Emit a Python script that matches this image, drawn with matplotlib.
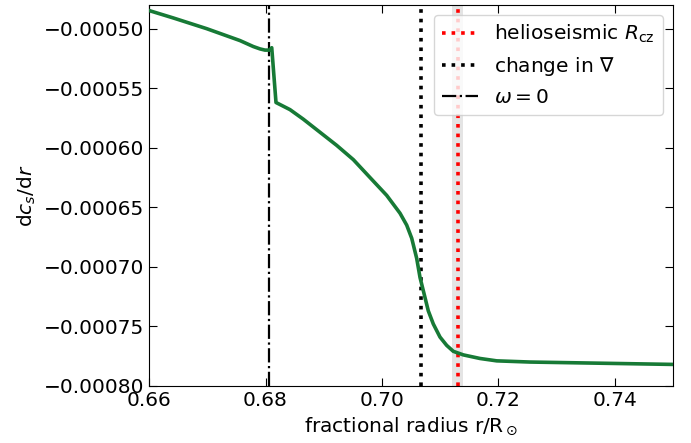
import numpy as np
import matplotlib
matplotlib.use("Agg")
from matplotlib import pyplot as plt

# sound speed gradient profile near the base of the convection zone
radius = [0.66015, 0.66416, 0.66990, 0.67562, 0.67790, 0.67906, 0.67991,
          0.68065, 0.68107, 0.68180, 0.68421, 0.68649, 0.68936, 0.69223,
          0.69509, 0.69795, 0.70082, 0.70311, 0.70426, 0.70512, 0.70598,
          0.70655, 0.70711, 0.70797, 0.70883, 0.70998, 0.71113, 0.71227,
          0.71399, 0.71685, 0.71972, 0.72545, 0.75]
dcs_dr = [-0.000485, -0.000491, -0.000500, -0.000510, -0.000515, -0.000517,
          -0.000518, -0.000518, -0.000516, -0.000562, -0.000568, -0.000576,
          -0.000587, -0.000598, -0.000610, -0.000625, -0.000640, -0.000655,
          -0.000665, -0.000676, -0.000693, -0.000709, -0.000720, -0.000737,
          -0.000748, -0.000759, -0.000766, -0.000771, -0.000774, -0.000777,
          -0.000779, -0.000780, -0.000782]

r_cz = 0.713
r_cz_err = 0.001
r_grad = 0.7067
r_omega = 0.68065

plt.rcParams["font.size"] = 14.5

fig = plt.figure(figsize=(6.91, 4.43), dpi=100)
ax = fig.add_axes([0.2158, 0.129, 0.758, 0.86])

ax.plot(radius, dcs_dr, color="#177a36", lw=2.6, zorder=3)
ax.axvspan(r_cz - r_cz_err, r_cz + r_cz_err, color="lightgrey", alpha=0.6, lw=0, zorder=1)
ax.axvline(r_cz, color="red", ls=":", lw=2.6, label=r"helioseismic $R_{\rm cz}$", zorder=2)
ax.axvline(r_grad, color="black", ls=":", lw=2.6, label=r"change in $\nabla$", zorder=2)
ax.axvline(r_omega, color="black", ls="-.", lw=1.6, label=r"$\omega = 0$", zorder=2)

ax.set_xlim(0.66, 0.75)
ax.set_ylim(-0.0008, -0.00048)
ax.set_xticks([0.66, 0.68, 0.70, 0.72, 0.74])
ax.set_yticks(np.arange(-0.0008, -0.00049, 0.00005))
ax.xaxis.set_major_formatter(matplotlib.ticker.FormatStrFormatter("%.2f"))
ax.yaxis.set_major_formatter(matplotlib.ticker.FuncFormatter(
    lambda v, p: ("%.5f" % v).replace("-", "\u2212")))
ax.tick_params(direction="in", top=True, right=True, length=6)

ax.set_xlabel(r"fractional radius r/R$_\odot$")
ax.set_ylabel(r"d$c_s$/d$r$")
ax.legend(loc="upper right", fontsize=14.5, handlelength=1.8)

fig.savefig("out.png", dpi=100)
